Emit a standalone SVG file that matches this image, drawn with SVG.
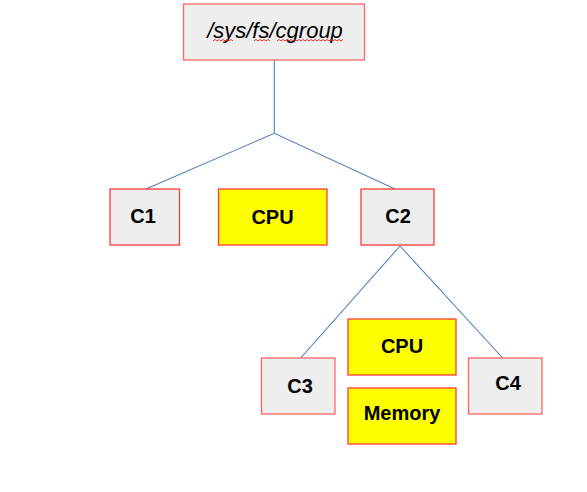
<svg xmlns="http://www.w3.org/2000/svg" width="587" height="492" viewBox="0 0 587 492">
<style>
.grey{fill:#eeeeee;stroke:#ff3b3b;stroke-width:1.3}
.grey2{fill:#eeeeee;stroke:#ff6666;stroke-width:1.3}
.yel{fill:#ffff00;stroke:#ff3b3b;stroke-width:1.3}
.lbl{font-family:"Liberation Sans",Arial,sans-serif;font-weight:bold;font-size:20px;fill:#000;text-anchor:middle}
.conn{fill:none;stroke:#4f81bd;stroke-width:1.1}
.sq{fill:none;stroke:#e02020;stroke-width:0.9}
</style>
<rect width="587" height="492" fill="#ffffff"/>
<g id="connectors">
<polyline class="conn" points="274.3,60 274.3,133.3"/>
<polyline class="conn" points="146,189 274.3,133.3 395,189"/>
<polyline class="conn" points="300.7,358 400,246 502.7,358"/>
</g>
<g id="root">
<rect class="grey2" x="183.5" y="4" width="181" height="56"/>
<text x="275" y="38" font-family="'Liberation Sans',Arial,sans-serif" font-style="italic" font-size="22" fill="#000" text-anchor="middle">/sys/fs/cgroup</text>
<path class="sq" d="M213,41 l2,-1.5 l2,1.5 l2,-1.5 l2,1.5 l2,-1.5 l2,1.5 l2,-1.5 l2,1.5 l2,-1.5 l2,1.5 M254,41 l2,-1.5 l2,1.5 l2,-1.5 l2,1.5 l2,-1.5 l2,1.5 l2,-1.5 l2,1.5 M277,41 l2,-1.5 l2,1.5 l2,-1.5 l2,1.5 l2,-1.5 l2,1.5 l2,-1.5 l2,1.5 l2,-1.5 l2,1.5 l2,-1.5 l2,1.5 l2,-1.5 l2,1.5 l2,-1.5 l2,1.5 l2,-1.5 l2,1.5 l2,-1.5 l2,1.5 l2,-1.5 l2,1.5 l2,-1.5 l2,1.5 l2,-1.5 l2,1.5 l2,-1.5 l2,1.5 l2,-1.5 l2,1.5 l2,-1.5 l2,1.5 l2,-1.5"/>
</g>
<g id="c1">
<rect class="grey" x="110" y="189" width="69.5" height="56"/>
<text class="lbl" x="143" y="223">C1</text>
</g>
<g id="cpu1">
<rect class="yel" x="218.5" y="189" width="108.5" height="56"/>
<text class="lbl" x="272.5" y="224">CPU</text>
</g>
<g id="c2">
<rect class="grey" x="361" y="189" width="73" height="56"/>
<text class="lbl" x="398" y="223">C2</text>
</g>
<g id="c3">
<rect class="grey2" x="261.5" y="358" width="73.5" height="56"/>
<text class="lbl" x="300" y="393">C3</text>
</g>
<g id="cpu2">
<rect class="yel" x="348" y="319" width="108" height="56"/>
<text class="lbl" x="402" y="353">CPU</text>
</g>
<g id="memory">
<rect class="yel" x="348" y="388" width="108" height="56"/>
<text class="lbl" x="402" y="420">Memory</text>
</g>
<g id="c4">
<rect class="grey2" x="468.5" y="358" width="73.5" height="56"/>
<text class="lbl" x="508" y="390">C4</text>
</g>
</svg>
